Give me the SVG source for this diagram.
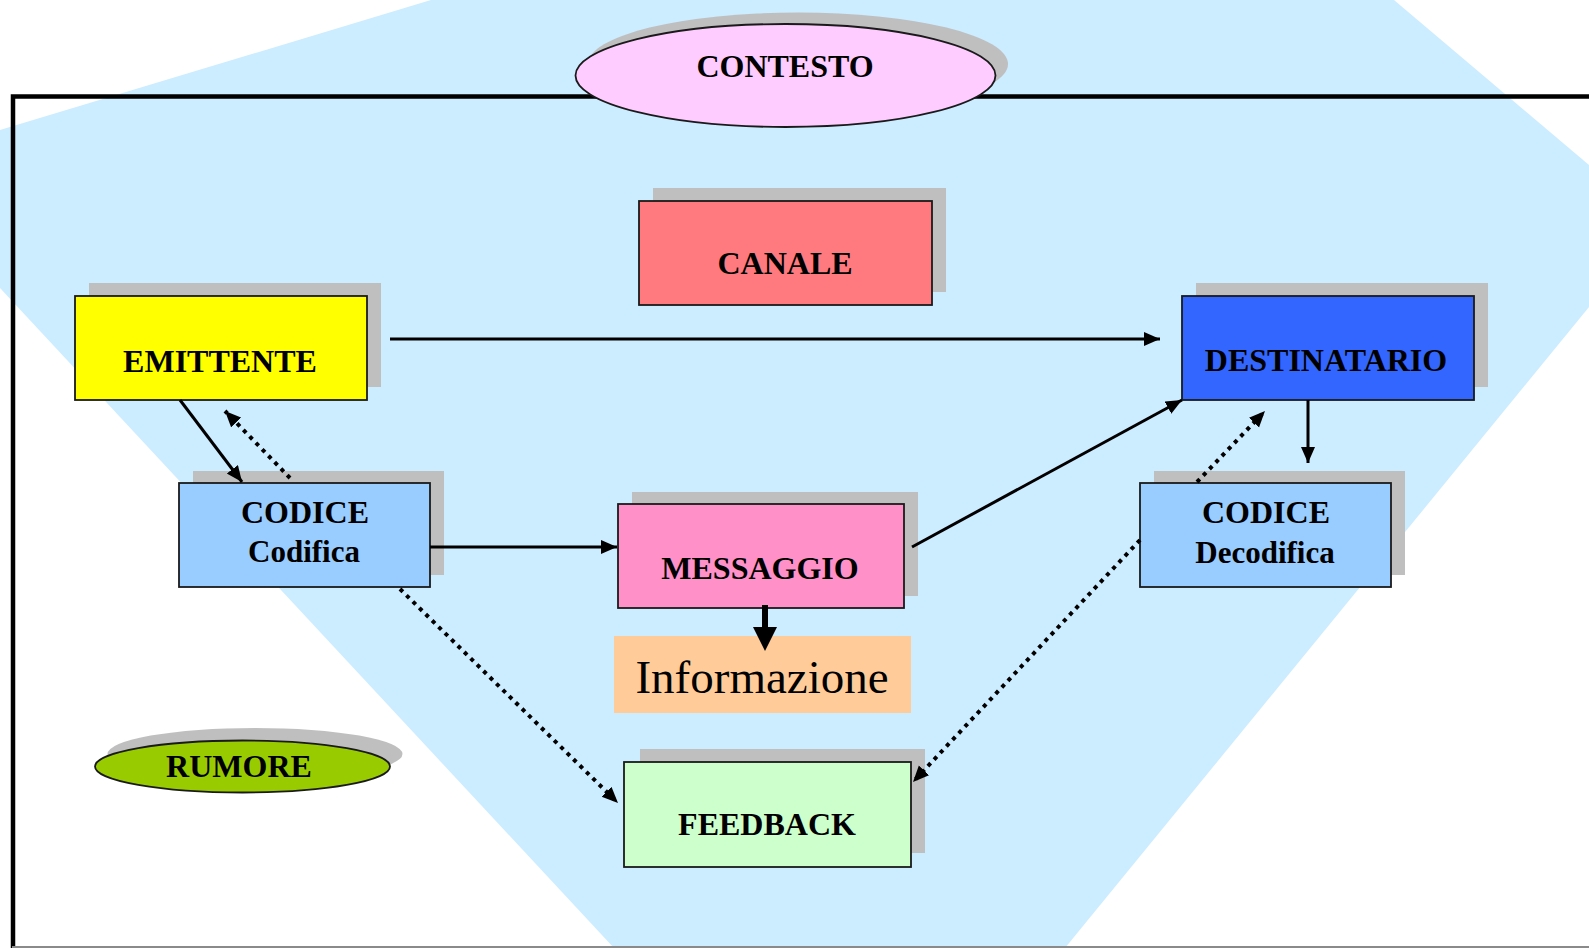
<svg xmlns="http://www.w3.org/2000/svg" width="1589" height="948" viewBox="0 0 1589 948">
<style>
.sh{fill:#bfbfbf}
.box{stroke:#1a1a1a;stroke-width:1.8}
.t{font-family:"Liberation Serif","Times New Roman",serif;font-weight:bold;font-size:32px;fill:#000;text-anchor:middle}
.t2{font-size:31px}
.c{fill:none;stroke:#000;stroke-width:3}
.d{fill:none;stroke:#000;stroke-width:4;stroke-dasharray:4 5}
</style>
<defs>
<marker id="ah" markerUnits="userSpaceOnUse" markerWidth="17" markerHeight="15" refX="16" refY="7" orient="auto"><path d="M0,0 L16,7 L0,14 z" fill="#000"/></marker>
<marker id="dh" markerUnits="userSpaceOnUse" markerWidth="17" markerHeight="15" refX="16" refY="7" orient="auto"><path d="M0,0 L16,7 L0,14 z" fill="#000"/></marker>
</defs>
<rect width="1589" height="948" fill="#fff"/>
<polygon points="431,0 1394,0 1589,165 1589,307 1065,948 614,948 0,288 0,130" fill="#ccecff"/>
<path d="M13,948 V96.5 H1589" fill="none" stroke="#000" stroke-width="4.5"/>
<line x1="12" y1="947" x2="1589" y2="947" stroke="#8a8a8a" stroke-width="2"/>

<g id="contesto">
<ellipse class="sh" cx="798" cy="64" rx="210" ry="51.5"/>
<ellipse class="box" cx="785.5" cy="75.5" rx="210" ry="51.5" fill="#ffccff"/>
<text class="t" x="785" y="77">CONTESTO</text>
</g>
<g id="canale">
<rect class="sh" x="653" y="188" width="293" height="104"/>
<rect class="box" x="639" y="201" width="293" height="104" fill="#ff7a7e"/>
<text class="t" x="785" y="274">CANALE</text>
</g>
<g id="emittente">
<rect class="sh" x="89" y="283" width="292" height="104"/>
<rect class="box" x="75" y="296" width="292" height="104" fill="#ffff00"/>
<text class="t" x="220" y="372">EMITTENTE</text>
</g>
<g id="destinatario">
<rect class="sh" x="1196" y="283" width="292" height="104"/>
<rect class="box" x="1182" y="296" width="292" height="104" fill="#3366ff"/>
<text class="t" x="1326" y="371">DESTINATARIO</text>
</g>
<g id="codice-codifica">
<rect class="sh" x="193" y="471" width="251" height="104"/>
<rect class="box" x="179" y="483" width="251" height="104" fill="#99ccff"/>
<text class="t" x="305" y="523">CODICE</text>
<text class="t t2" x="304" y="562">Codifica</text>
</g>
<g id="codice-decodifica">
<rect class="sh" x="1154" y="471" width="251" height="104"/>
<rect class="box" x="1140" y="483" width="251" height="104" fill="#99ccff"/>
<text class="t" x="1266" y="523">CODICE</text>
<text class="t t2" x="1265" y="563">Decodifica</text>
</g>
<g id="messaggio">
<rect class="sh" x="632" y="492" width="286" height="104"/>
<rect class="box" x="618" y="504" width="286" height="104" fill="#ff91c8"/>
<text class="t" x="760" y="579">MESSAGGIO</text>
</g>
<g id="informazione">
<rect x="614" y="636" width="297" height="77" fill="#ffcc99"/>
<text x="762" y="693" font-family="'Liberation Serif','Times New Roman',serif" font-size="47" text-anchor="middle" fill="#000">Informazione</text>
</g>
<g id="feedback">
<rect class="sh" x="640" y="749" width="285" height="104"/>
<rect class="box" x="624" y="762" width="287" height="105" fill="#ccffcc"/>
<text class="t" x="767" y="835">FEEDBACK</text>
</g>
<g id="rumore">
<ellipse class="sh" cx="255" cy="754" rx="147.5" ry="26"/>
<ellipse class="box" cx="242.5" cy="766.5" rx="147.5" ry="26" fill="#99cc00"/>
<text class="t" x="239" y="777">RUMORE</text>
</g>

<g id="connectors">
<line class="c" x1="390" y1="339" x2="1160" y2="339" marker-end="url(#ah)"/>
<line class="c" x1="180" y1="400" x2="242" y2="482" marker-end="url(#ah)"/>
<line class="d" x1="290" y1="478" x2="225" y2="411" marker-end="url(#dh)"/>
<line class="c" x1="430" y1="547" x2="617" y2="547" marker-end="url(#ah)"/>
<line class="c" x1="912" y1="547" x2="1182" y2="400" marker-end="url(#ah)"/>
<line class="c" x1="1308" y1="400" x2="1308" y2="463" marker-end="url(#ah)"/>
<line class="d" x1="1197" y1="482" x2="1265" y2="411" marker-end="url(#dh)"/>
<line class="d" x1="1140" y1="540" x2="913" y2="782" marker-end="url(#dh)"/>
<line class="d" x1="400" y1="589" x2="618" y2="803" marker-end="url(#dh)"/>
<line x1="765" y1="605" x2="765" y2="630" stroke="#000" stroke-width="6"/>
<polygon points="753,627 777,627 765,651" fill="#000"/>
</g>
</svg>
